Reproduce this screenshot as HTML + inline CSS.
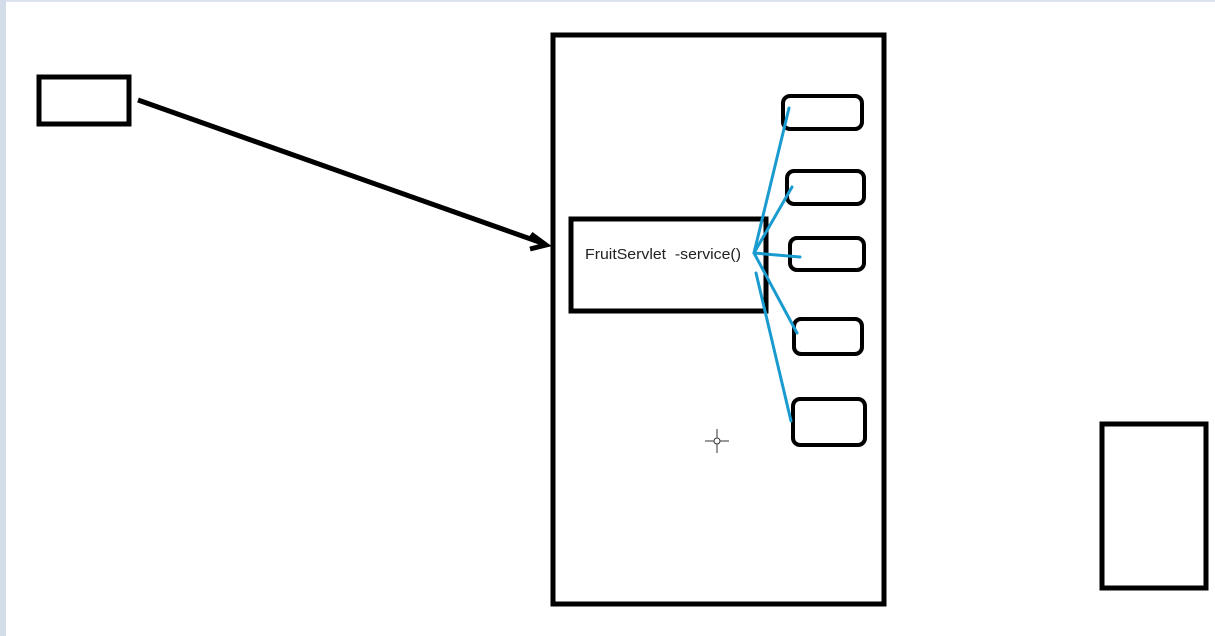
<!DOCTYPE html>
<html><head><style>
html,body{margin:0;padding:0;width:1215px;height:636px;overflow:hidden;background:#fff}
</style></head><body>
<svg width="1215" height="636" xmlns="http://www.w3.org/2000/svg">
<rect x="0" y="0" width="1215" height="2" fill="#dbe4ee"/>
<rect x="0" y="0" width="6" height="636" fill="#d3dde9"/>
<rect x="39" y="77" width="90" height="47" fill="none" stroke="#000" stroke-width="5"/>
<line x1="138" y1="100" x2="542" y2="243" stroke="#000" stroke-width="5"/>
<polyline points="531,234 546,245 530,249" fill="none" stroke="#000" stroke-width="5"/>
<rect x="553" y="35" width="331" height="569" fill="none" stroke="#000" stroke-width="5"/>
<rect x="571" y="219" width="195" height="92" fill="none" stroke="#000" stroke-width="5"/>
<text x="585" y="259" font-family="Liberation Sans, sans-serif" font-size="15" fill="#222" style="white-space:pre" textLength="156" lengthAdjust="spacingAndGlyphs">FruitServlet  -service()</text>
<g fill="none" stroke="#000" stroke-width="4">
<rect x="783" y="96" width="79" height="33" rx="7"/>
<rect x="787" y="171" width="77" height="33" rx="7"/>
<rect x="790" y="238" width="74" height="32" rx="7"/>
<rect x="794" y="319" width="68" height="35" rx="7"/>
<rect x="793" y="399" width="72" height="46" rx="7"/>
</g>
<g stroke="#1a9bd0" stroke-width="3" stroke-linecap="round">
<line x1="754" y1="253" x2="789" y2="108"/>
<line x1="754" y1="253" x2="792" y2="187"/>
<line x1="754" y1="253" x2="800" y2="257"/>
<line x1="754" y1="253" x2="797" y2="333"/>
<line x1="756" y1="273" x2="791" y2="421"/>
</g>
<g stroke="#333" stroke-width="1" fill="none">
<line x1="705" y1="441" x2="729" y2="441"/>
<line x1="717" y1="429" x2="717" y2="453"/>
<circle cx="717" cy="441" r="3" fill="#fff"/>
</g>
<rect x="1102" y="424" width="104" height="164" fill="none" stroke="#000" stroke-width="5"/>
</svg>
</body></html>
